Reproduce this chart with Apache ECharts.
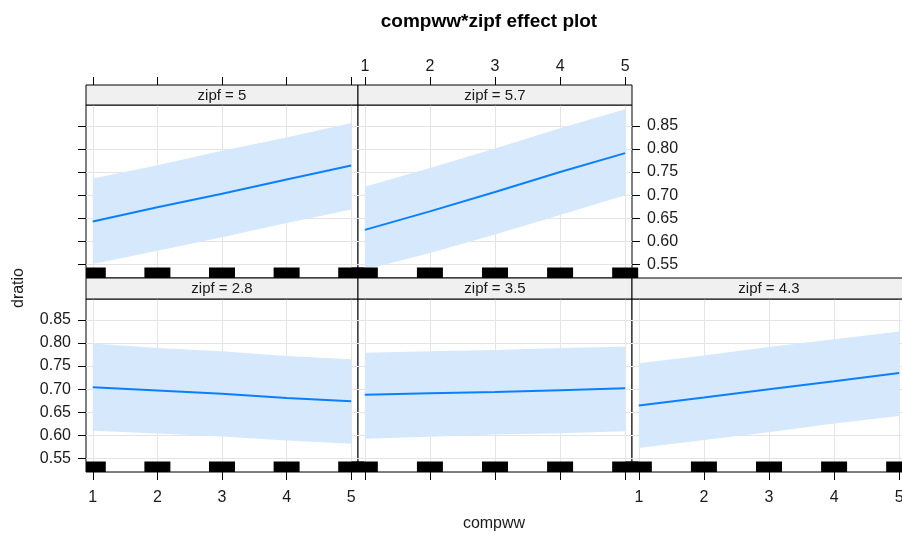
<!DOCTYPE html>
<html><head><meta charset="utf-8">
<script src="https://cdn.jsdelivr.net/npm/echarts@6/dist/echarts.min.js"></script>
<style>html,body{margin:0;padding:0;background:#fff}#c{width:902px;height:534px}</style>
</head><body><div id="c"></div>
<script>
// ---- data ----
const compww = [1, 2, 3, 4, 5];
const xTicks = [1, 2, 3, 4, 5];
const yTicks = [0.55, 0.60, 0.65, 0.70, 0.75, 0.80, 0.85];
const rugCompww = [1, 2, 3, 4, 5];

const fit_2_8 = [0.704, 0.697, 0.690, 0.681, 0.674];
const lo_2_8  = [0.610, 0.604, 0.598, 0.589, 0.582];
const hi_2_8  = [0.799, 0.789, 0.782, 0.772, 0.765];

const fit_3_5 = [0.688, 0.691, 0.694, 0.698, 0.702];
const lo_3_5  = [0.593, 0.597, 0.602, 0.605, 0.609];
const hi_3_5  = [0.779, 0.782, 0.785, 0.789, 0.792];

const fit_4_3 = [0.665, 0.682, 0.700, 0.717, 0.735];
const lo_4_3  = [0.573, 0.590, 0.607, 0.626, 0.642];
const hi_4_3  = [0.756, 0.773, 0.791, 0.808, 0.825];

const fit_5   = [0.643, 0.674, 0.703, 0.734, 0.764];
const lo_5    = [0.551, 0.580, 0.609, 0.640, 0.669];
const hi_5    = [0.736, 0.765, 0.796, 0.825, 0.856];

const fit_5_7 = [0.625, 0.665, 0.707, 0.750, 0.791];
const lo_5_7  = [0.539, 0.575, 0.615, 0.657, 0.700];
const hi_5_7  = [0.718, 0.759, 0.801, 0.845, 0.886];

// ---- layout / style ----
const FONT = '"Liberation Sans", Arial, sans-serif';
const TXT = '#1a1a1a';
const colLeft = [86, 358, 632];
const colWidth = [272, 274, 274];
const rowTop = [105, 299];
const rowH = 173;
const stripH = [20, 21];
const X_MIN = 0.895, X_MAX = 5.105;
const Y_MIN = 0.521, Y_MAX = 0.895;
const RUG_HALF = 13, RUG_H = 10.5;

const panels = [
  {zipf: '5',   fit: fit_5,   lo: lo_5,   hi: hi_5,   row: 0, col: 0, xPos: 'top',    xLab: false, yPos: 'left',  yLab: false},
  {zipf: '5.7', fit: fit_5_7, lo: lo_5_7, hi: hi_5_7, row: 0, col: 1, xPos: 'top',    xLab: true,  yPos: 'right', yLab: true},
  {zipf: '2.8', fit: fit_2_8, lo: lo_2_8, hi: hi_2_8, row: 1, col: 0, xPos: 'bottom', xLab: true,  yPos: 'left',  yLab: true},
  {zipf: '3.5', fit: fit_3_5, lo: lo_3_5, hi: hi_3_5, row: 1, col: 1, xPos: 'bottom', xLab: false, yPos: null,    yLab: false},
  {zipf: '4.3', fit: fit_4_3, lo: lo_4_3, hi: hi_4_3, row: 1, col: 2, xPos: 'bottom', xLab: true,  yPos: null,    yLab: false}
];

const grids = [], xAxes = [], yAxes = [], series = [], graphics = [];

panels.forEach((p, i) => {
  const left = colLeft[p.col], top = rowTop[p.row], w = colWidth[p.col];
  grids.push({left: left, top: top, width: w, height: rowH, show: true,
    backgroundColor: '#fff', borderColor: '#000', borderWidth: 1,
    containLabel: false, outerBoundsMode: 'none'});
  xAxes.push({
    gridIndex: i, type: 'value', min: X_MIN, max: X_MAX,
    position: p.xPos, offset: p.xPos === 'top' ? stripH[p.row] : 0,
    axisLine: {show: false},
    axisTick: {show: true, customValues: xTicks, length: 8, lineStyle: {color: '#000', width: 1}},
    axisLabel: {show: p.xLab, customValues: xTicks, margin: p.xPos === 'top' ? 10 : 18,
      fontSize: 16, color: TXT, fontFamily: FONT, formatter: v => String(v)},
    splitLine: {show: true, lineStyle: {color: '#e4e4e4', width: 1}}
  });
  yAxes.push({
    gridIndex: i, type: 'value', min: Y_MIN, max: Y_MAX,
    position: p.yPos || 'left',
    axisLine: {show: false},
    axisTick: {show: !!p.yPos, customValues: yTicks, length: 8, lineStyle: {color: '#000', width: 1}},
    axisLabel: {show: p.yLab, customValues: yTicks, margin: 15,
      fontSize: 16, color: TXT, fontFamily: FONT, formatter: v => v.toFixed(2)},
    splitLine: {show: true, lineStyle: {color: '#e4e4e4', width: 1}}
  });
  // confidence band
  series.push({
    type: 'custom', xAxisIndex: i, yAxisIndex: i, z: 2, silent: true,
    data: compww.map((x, k) => [x, p.lo[k], p.hi[k]]),
    renderItem: (params, api) => {
      if (params.dataIndex !== 0) return null;
      const up = compww.map((x, k) => api.coord([x, p.hi[k]]));
      const dn = compww.map((x, k) => api.coord([x, p.lo[k]])).reverse();
      return {type: 'polygon', shape: {points: up.concat(dn)},
        style: {fill: '#d6e8fc', stroke: null}};
    }
  });
  // fitted line
  series.push({
    type: 'line', xAxisIndex: i, yAxisIndex: i, z: 3, silent: true,
    data: compww.map((x, k) => [x, p.fit[k]]),
    symbol: 'none', lineStyle: {color: '#0a80ff', width: 2}
  });
  // rug
  series.push({
    type: 'custom', xAxisIndex: i, yAxisIndex: i, z: 6, silent: true, clip: false,
    data: rugCompww.map(x => [x]),
    renderItem: (params, api) => {
      const cs = params.coordSys;
      const c = api.coord([api.value(0), Y_MIN]);
      let l = c[0] - RUG_HALF, r = c[0] + RUG_HALF;
      if (p.col === 0) l = Math.max(l, cs.x);
      const b = cs.y + cs.height;
      return {type: 'rect', shape: {x: l, y: b - RUG_H, width: r - l, height: RUG_H},
        style: {fill: '#000'}};
    }
  });
  // strip
  graphics.push({type: 'rect', z: 10, silent: true,
    shape: {x: left, y: top - stripH[p.row], width: w, height: stripH[p.row]},
    style: {fill: '#f0f0f0', stroke: '#000', lineWidth: 1}});
  graphics.push({type: 'text', z: 11, silent: true,
    x: left + w / 2, y: top - stripH[p.row] / 2 + 0.5,
    style: {text: 'zipf = ' + p.zipf, fontSize: 15, fontFamily: FONT, fill: TXT,
      textAlign: 'center', textVerticalAlign: 'middle'}});
});

graphics.push({type: 'text', z: 11, x: 489, y: 22,
  style: {text: 'compww*zipf effect plot', fontSize: 19, fontWeight: 'bold', fontFamily: FONT,
    fill: '#000', textAlign: 'center', textVerticalAlign: 'middle'}});
graphics.push({type: 'text', z: 11, x: 494, y: 524,
  style: {text: 'compww', fontSize: 16, fontFamily: FONT, fill: TXT,
    textAlign: 'center', textVerticalAlign: 'middle'}});
graphics.push({type: 'text', z: 11, x: 19, y: 288, rotation: Math.PI / 2,
  style: {text: 'dratio', fontSize: 16, fontFamily: FONT, fill: TXT,
    textAlign: 'center', textVerticalAlign: 'middle'}});

const chart = echarts.init(document.getElementById('c'), null, {renderer: 'canvas'});
chart.setOption({
  animation: false,
  backgroundColor: '#fff',
  grid: grids, xAxis: xAxes, yAxis: yAxes, series: series, graphic: graphics
});
</script>
</body></html>
